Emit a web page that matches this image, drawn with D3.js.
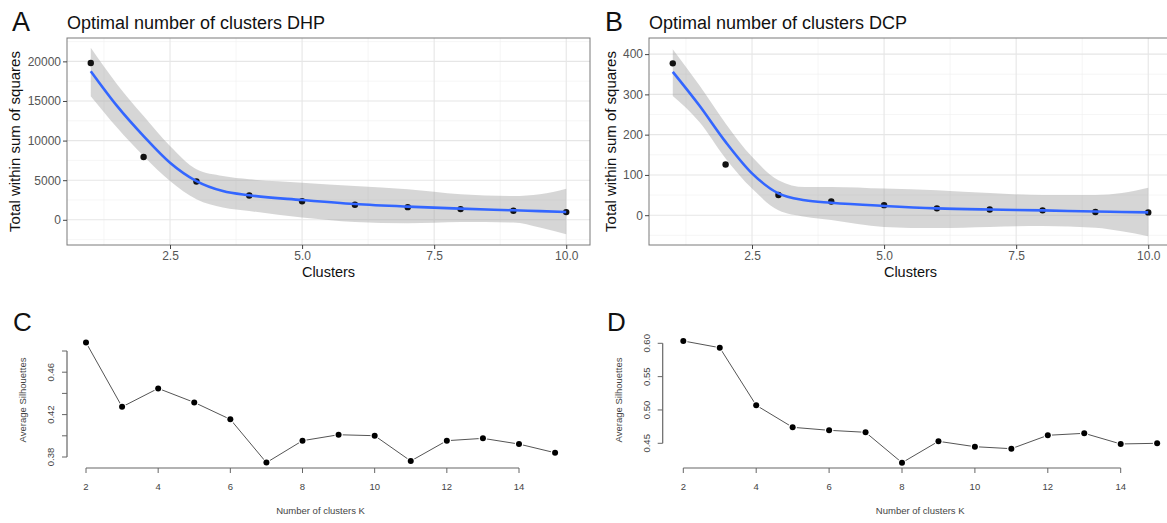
<!DOCTYPE html>
<html>
<head>
<meta charset="utf-8">
<style>
  body { margin: 0; background: #fff; }
  svg { display: block; font-family: "Liberation Sans", Arial, sans-serif; }
</style>
</head>
<body>
<svg id="chart"></svg>
<script src="https://cdn.jsdelivr.net/npm/d3@7"></script>
<script>

  // ---- data ----
  const clusters = [1, 2, 3, 4, 5, 6, 7, 8, 9, 10]
  const dhpWss = [19800, 7920, 4840, 3070, 2350, 1895, 1600, 1350, 1140, 970]
  const dcpWss = [377, 126, 50, 34, 25, 17, 14, 12, 8, 7]

  // loess fit + 95% band, sampled along x
  const smoothX  = [1, 1.5, 2, 2.5, 3, 3.5, 4, 5, 6, 7, 8, 9, 9.5, 10]
  const dhpFit   = [18760, 14350, 10570, 7210, 4890, 3630, 3090, 2500, 1990, 1660, 1410, 1200, 1090, 985]
  const dhpUpper = [21710, 17090, 13090, 9310, 6370, 5520, 5110, 4690, 4260, 3850, 3220, 3000, 3220, 3930]
  const dhpLower = [15610, 11630, 8050, 4890, 2590, 1540, 1110, 280, -280, -440, -280, -350, -980, -1830]
  const dcpFit   = [356, 273, 182, 104, 54, 37, 31, 23, 17, 14, 12, 9, 8, 7]
  const dcpUpper = [412, 323, 228, 145, 87, 70, 70, 66, 62, 55, 50, 50, 55, 68]
  const dcpLower = [296, 232, 141, 66, 12, -4, -12, -29, -32, -29, -27, -31, -40, -52]

  const wssXTicks = [2.5, 5.0, 7.5, 10.0]
  const wssXMinor = [1.25, 3.75, 6.25, 8.75]
  const dhpYTicks = [0, 5000, 10000, 15000, 20000]
  const dhpYMinor = [-2500, 2500, 7500, 12500, 17500, 22500]
  const dcpYTicks = [0, 100, 200, 300, 400]
  const dcpYMinor = [-50, 50, 150, 250, 350]

  const silK = [2, 3, 4, 5, 6, 7, 8, 9, 10, 11, 12, 13, 14, 15]
  const silDHP = [0.488, 0.4273, 0.4447, 0.4315, 0.4155, 0.3747, 0.3954, 0.401, 0.4001, 0.3762, 0.3954, 0.3976, 0.3922, 0.384]
  const silDCP = [0.6035, 0.5934, 0.507, 0.474, 0.4695, 0.4665, 0.4209, 0.453, 0.4449, 0.4419, 0.462, 0.465, 0.449, 0.45]
  const silXTicks = [2, 4, 6, 8, 10, 12, 14]
  const silCYTicks = [0.38, 0.40, 0.42, 0.44, 0.46, 0.48]
  const silCYLabels = [0.38, 0.42, 0.46]
  const silDYTicks = [0.45, 0.50, 0.55, 0.60]
  const silDYLabels = [0.45, 0.50, 0.55, 0.60]

  const width = 1167, height = 523
  const svg = d3.select("#chart").attr("width", width).attr("height", height)

  // ---- ggplot style panels (A, B) ----
  function wssPanel(opt) {
    const x = d3.scaleLinear().domain([0.55, 10.45]).range([opt.left, opt.left + 523])
    const y = d3.scaleLinear().domain(opt.yDomain).range([245, 38])
    const g = svg.append("g")
    const top = 38, bottom = 245, left = x.range()[0], right = x.range()[1]

    // minor + major grid
    g.selectAll(".gxm").data(wssXMinor).enter().append("line")
      .attr("x1", d => x(d)).attr("x2", d => x(d)).attr("y1", top).attr("y2", bottom)
      .attr("stroke", "#f0f0f0").attr("stroke-width", 0.6)
    g.selectAll(".gym").data(opt.yMinor).enter().append("line")
      .attr("y1", d => y(d)).attr("y2", d => y(d)).attr("x1", left).attr("x2", right)
      .attr("stroke", "#f0f0f0").attr("stroke-width", 0.6)
    g.selectAll(".gx").data(wssXTicks).enter().append("line")
      .attr("x1", d => x(d)).attr("x2", d => x(d)).attr("y1", top).attr("y2", bottom)
      .attr("stroke", "#e6e6e6").attr("stroke-width", 1.1)
    g.selectAll(".gy").data(opt.yTicks).enter().append("line")
      .attr("y1", d => y(d)).attr("y2", d => y(d)).attr("x1", left).attr("x2", right)
      .attr("stroke", "#e6e6e6").attr("stroke-width", 1.1)

    const band = smoothX.map((d, i) => ({x: d, lo: opt.lower[i], hi: opt.upper[i], fit: opt.fit[i]}))
    g.append("path").datum(band)
      .attr("fill", "#999999").attr("fill-opacity", 0.4)
      .attr("d", d3.area().curve(d3.curveMonotoneX).x(d => x(d.x)).y0(d => y(d.lo)).y1(d => y(d.hi)))

    g.selectAll(".pt").data(clusters).enter().append("circle")
      .attr("cx", d => x(d)).attr("cy", (d, i) => y(opt.wss[i])).attr("r", 3.2).attr("fill", "#111")

    g.append("path").datum(band)
      .attr("fill", "none").attr("stroke", "#3366FF").attr("stroke-width", 2.6)
      .attr("d", d3.line().curve(d3.curveMonotoneX).x(d => x(d.x)).y(d => y(d.fit)))

    g.append("rect").attr("x", left).attr("y", top).attr("width", right - left).attr("height", bottom - top)
      .attr("fill", "none").attr("stroke", "#7a7a7a").attr("stroke-width", 1)

    const yAxis = d3.axisLeft(y).tickValues(opt.yTicks).tickSize(4).tickPadding(2).tickFormat(d3.format("d"))
    const ga = g.append("g").attr("transform", `translate(${left},0)`).call(yAxis)
    const xAxis = d3.axisBottom(x).tickValues(wssXTicks).tickSize(4).tickPadding(2).tickFormat(d3.format(".1f"))
    const gb = g.append("g").attr("transform", `translate(0,${bottom})`).call(xAxis)
    for (const a of [ga, gb]) {
      a.select(".domain").remove()
      a.selectAll(".tick line").attr("stroke", "#444")
      a.selectAll(".tick text").attr("fill", "#555").style("font-size", "12px")
    }

    g.append("text").attr("x", opt.letterX).attr("y", 31).style("font-size", "27px").attr("fill", "#111").text(opt.letter)
    g.append("text").attr("x", left).attr("y", 28.5).style("font-size", "18px").attr("fill", "#111").text(opt.title)
    g.append("text").attr("transform", `translate(${opt.yTitleX},${(top + bottom) / 2}) rotate(-90)`)
      .attr("text-anchor", "middle").style("font-size", "15px").attr("fill", "#111")
      .text("Total within sum of squares")
    g.append("text").attr("x", (left + right) / 2).attr("y", 277).attr("text-anchor", "middle")
      .style("font-size", "14.5px").attr("fill", "#111").text("Clusters")
  }

  wssPanel({left: 67, yDomain: [-3180, 22950], yTicks: dhpYTicks, yMinor: dhpYMinor,
    wss: dhpWss, fit: dhpFit, upper: dhpUpper, lower: dhpLower,
    letter: "A", letterX: 12, yTitleX: 20, title: "Optimal number of clusters DHP"})
  wssPanel({left: 649, yDomain: [-74, 440], yTicks: dcpYTicks, yMinor: dcpYMinor,
    wss: dcpWss, fit: dcpFit, upper: dcpUpper, lower: dcpLower,
    letter: "B", letterX: 605, yTitleX: 616, title: "Optimal number of clusters DCP"})

  // ---- base R style panels (C, D) ----
  function silPanel(opt) {
    const x = d3.scaleLinear().domain([2, 14]).range(opt.xRange)
    const y = d3.scaleLinear().domain(opt.yDomain).range(opt.yRange)
    const g = svg.append("g")
    const axisX = 468

    g.append("line").attr("x1", x(2)).attr("x2", x(14)).attr("y1", axisX).attr("y2", axisX)
      .attr("stroke", "#666").attr("stroke-width", 1.2)
    g.selectAll(".xt").data(silXTicks).enter().append("line")
      .attr("x1", d => x(d)).attr("x2", d => x(d)).attr("y1", axisX).attr("y2", axisX + 5)
      .attr("stroke", "#666").attr("stroke-width", 1)
    g.selectAll(".xl").data(silXTicks).enter().append("text")
      .attr("x", d => x(d)).attr("y", 490).attr("text-anchor", "middle")
      .style("font-size", "9.5px").attr("fill", "#444").text(d => d)

    const ax = opt.axisY
    const yt = opt.yTicks
    g.append("line").attr("x1", ax).attr("x2", ax).attr("y1", y(yt[0])).attr("y2", y(yt[yt.length - 1]))
      .attr("stroke", "#666").attr("stroke-width", 1.2)
    g.selectAll(".yt").data(yt).enter().append("line")
      .attr("x1", ax - 5).attr("x2", ax).attr("y1", d => y(d)).attr("y2", d => y(d))
      .attr("stroke", "#666").attr("stroke-width", 1)
    g.selectAll(".yl").data(opt.yLabels).enter().append("text")
      .attr("transform", d => `translate(${ax - 13},${y(d)}) rotate(-90)`)
      .attr("text-anchor", "middle").style("font-size", "9.5px").attr("fill", "#444")
      .text(d => d.toFixed(2))

    g.append("path").datum(silK)
      .attr("fill", "none").attr("stroke", "#555").attr("stroke-width", 1)
      .attr("d", d3.line().x(d => x(d)).y((d, i) => y(opt.values[i])))
    g.selectAll(".sp").data(silK).enter().append("circle")
      .attr("cx", d => x(d)).attr("cy", (d, i) => y(opt.values[i])).attr("r", 4.2).attr("fill", "#fff")
    g.selectAll(".sq").data(silK).enter().append("circle")
      .attr("cx", d => x(d)).attr("cy", (d, i) => y(opt.values[i])).attr("r", 3).attr("fill", "#000")

    g.append("text").attr("x", opt.letterX).attr("y", 331).style("font-size", "26px").attr("fill", "#111").text(opt.letter)
    g.append("text").attr("transform", `translate(${ax - 41},400) rotate(-90)`)
      .attr("text-anchor", "middle").style("font-size", "9.5px").attr("fill", "#444").text("Average Silhouettes")
    g.append("text").attr("x", (x(2) + x(15)) / 2).attr("y", 514).attr("text-anchor", "middle")
      .style("font-size", "9.5px").attr("fill", "#444").text("Number of clusters K")
  }

  silPanel({xRange: [86, 519], yDomain: [0.38, 0.48], yRange: [457, 351], axisY: 67,
    yTicks: silCYTicks, yLabels: silCYLabels, values: silDHP, letter: "C", letterX: 13})
  silPanel({xRange: [683.3, 1120.7], yDomain: [0.45, 0.60], yRange: [443.3, 343.3], axisY: 662.7,
    yTicks: silDYTicks, yLabels: silDYLabels, values: silDCP, letter: "D", letterX: 607})

</script>
</body>
</html>
